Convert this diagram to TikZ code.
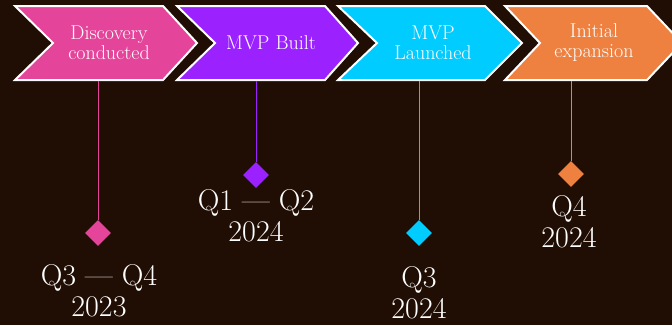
\documentclass[tikz,border=0pt]{standalone}
\usetikzlibrary{shapes.geometric}
\definecolor{bgc}{HTML}{200D04}
\definecolor{cpink}{HTML}{E5449B}
\definecolor{cpurple}{HTML}{9B22FF}
\definecolor{ccyan}{HTML}{00CCFF}
\definecolor{corange}{HTML}{EE8040}
\begin{document}
\begin{tikzpicture}[x=1pt,y=-1pt,
  chev/.style={draw=white,line width=2pt,line join=miter},
  chevtext/.style={text=white,align=center,font=\fontsize{20}{20}\selectfont,inner sep=0pt},
  dia/.style={diamond,aspect=1,minimum width=26pt,minimum height=26pt,inner sep=0pt,draw=none},
  datetext/.style={text=white,align=center,font=\fontsize{30}{31}\selectfont,inner sep=0pt},
  conn/.style={line width=0.9pt}]
\fill[bgc] (0,0) rectangle (672,325);
\useasboundingbox (0,0) rectangle (672,325);
% chevrons
\draw[chev,fill=cpink] (15,6) -- (163,6) -- (197,43) -- (163,80) -- (15,80) -- (53,43) -- cycle;
\draw[chev,fill=cpurple] (177,6) -- (325,6) -- (358,43) -- (325,80) -- (177,80) -- (215,43) -- cycle;
\draw[chev,fill=ccyan] (338,6) -- (485,6) -- (522,43) -- (485,80) -- (338,80) -- (377,43) -- cycle;
\draw[chev,fill=corange] (505,6) -- (647,6) -- (682,43) -- (647,80) -- (505,80) -- (540,43) -- cycle;
% chevron labels
\node[chevtext] (t1) at (109,43) {Discovery\\conducted};
\node[chevtext] (t2) at (271,43) {MVP Built};
\node[chevtext] (t3) at (433,43) {MVP\\Launched};
\node[chevtext] (t4) at (594,43) {Initial\\expansion};
% connector starts
\coordinate (b1) at (98,81);
\coordinate (b2) at (256,81);
\coordinate (b3) at (419,81);
\coordinate (b4) at (571,81);
% diamonds
\node[dia,fill=cpink] (d1) at (98,233) {};
\node[dia,fill=cpurple] (d2) at (256,175) {};
\node[dia,fill=ccyan] (d3) at (419,233) {};
\node[dia,fill=corange] (d4) at (571,174) {};
\draw[conn,cpink] (b1) -- (d1);
\draw[conn,cpurple] (b2) -- (d2);
\draw[conn,ccyan] (b3) -- (d3);
\draw[conn,corange] (b4) -- (d4);
% dates
\node[datetext] (q1) at (99,291) {Q3 --- Q4\\2023};
\node[datetext] (q2) at (256,216) {Q1 --- Q2\\2024};
\node[datetext] (q3) at (419,293) {Q3\\2024};
\node[datetext] (q4) at (569,222) {Q4\\2024};
\end{tikzpicture}
\end{document}
